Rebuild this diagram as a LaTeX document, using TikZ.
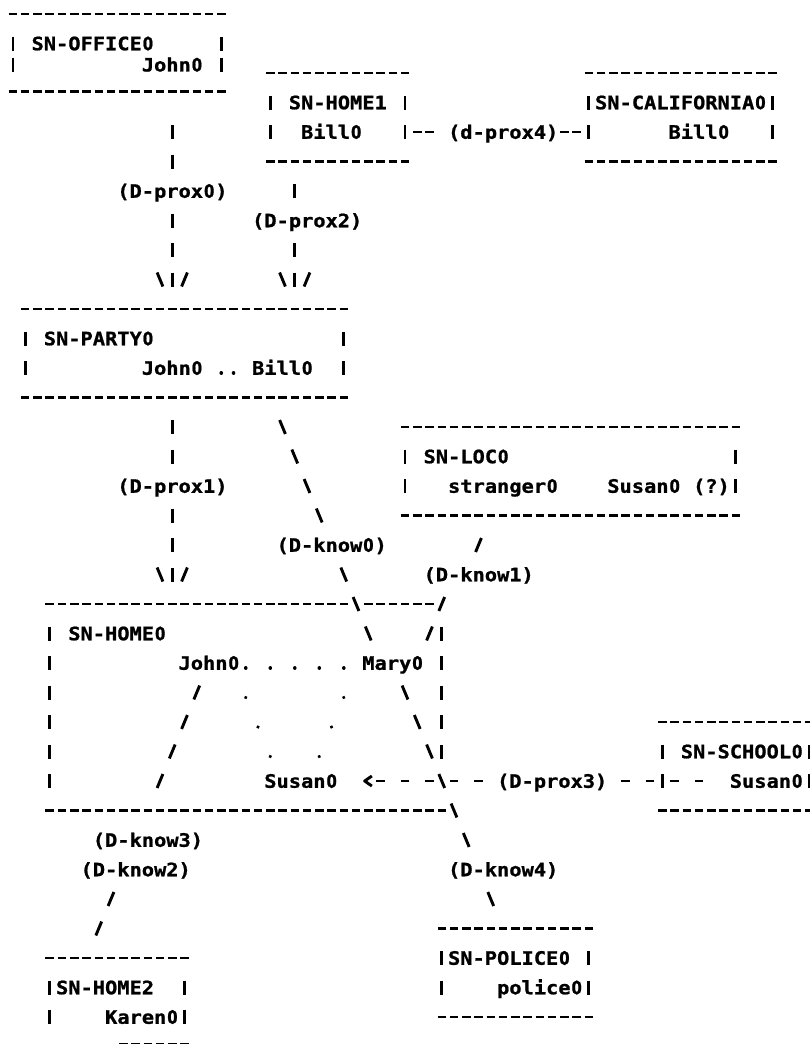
\documentclass[tikz,border=0pt]{standalone}
\usepackage{fontspec}
\newfontfamily\asciifont{DejaVu Sans Mono}[FakeStretch=1.1, FakeBold=1]
% plain (undotted) zero, squeezed into one character cell
\newfontfamily\zerofont{DejaVu Sans}[FakeStretch=0.8, FakeBold=1]
\usetikzlibrary{calc}

% character cell: 12.25pt wide, 29.5pt per printed line
\newcommand\asciisize{\fontsize{18.5}{20}\selectfont}
\newcommand\fixspace{\fontdimen2\font=12.2517pt\fontdimen3\font=0pt\fontdimen4\font=0pt\relax}
\newcommand\zr{\makebox[12.2517pt][c]{\zerofont 0}}

\tikzset{
  txt/.style={inner sep=0pt, anchor=base west, yshift=-6.75pt,
              font=\asciifont\bfseries\asciisize\fixspace},
  ink/.style={line width=2.9pt, black},
  border/.style={ink, dash pattern=on 8.5pt off 3.75pt,
                 shorten <=-4.25pt, shorten >=-4.25pt},
  hrun/.style={ink, dash pattern=on 8.5pt off 16pt,
               shorten <=-4.25pt, shorten >=-4.25pt},
  vrun/.style={ink, dash pattern=on 14pt off 15.5pt,
               shorten <=-7pt, shorten >=-7pt},
  drun/.style={ink, dash pattern=on 15.1pt off 16.84pt,
               shorten <=-7.55pt, shorten >=-7.55pt},
  dotrun/.style={line width=3.6pt, line cap=round,
                 dash pattern=on 0.01pt off #1, shorten >=-0.5pt},
}

% single strokes centred in a character cell
\newcommand\avbar[2]{\draw[ink] (#1,#2) +(0,7pt) -- +(0,-7pt);}
\newcommand\abslash[2]{\draw[ink] (#1,#2) +(-2.9pt,7pt) -- +(2.9pt,-7pt);}
\newcommand\afslash[2]{\draw[ink] (#1,#2) +(2.9pt,7pt) -- +(-2.9pt,-7pt);}
% downward arrow head  \|/
\newcommand\adown[2]{\abslash{#1-1}{#2}\afslash{#1+1}{#2}}
% frame: dashed top/bottom rows, bars on the two text rows
\newcommand\asciibox[4]{%
  \draw[border] (#1,#2) -- (#3,#2);
  \draw[border] (#1,#4) -- (#3,#4);
  \draw[vrun] (#1,#2+1) -- (#1,#4-1);
  \draw[vrun] (#3,#2+1) -- (#3,#4-1);
}

\begin{document}
\begin{tikzpicture}[x=12.25pt, y=-29.5pt]
\useasboundingbox (-1.06122,-0.47458) rectangle (65.06122,34.91525);
\fill[white] (-1.06122,-0.47458) rectangle (65.06122,34.91525);
\clip (-1.06122,-0.47458) rectangle (65.06122,34.91525);

% ---------------- situation boxes ----------------
% SN-OFFICE0 is printed a little tighter than the other boxes
\draw[border] (0,0) -- (17,0);
\draw[border] (0,2.62) -- (17,2.62);
\avbar{0}{1}\avbar{0}{1.72}
\avbar{17}{1}\avbar{17}{1.72}
\node[txt] (office) at (1.5,1) {SN-OFFICE\zr};
\node[txt] (officeJohn) at (10.5,1.72) {John\zr};

\asciibox{21}{2}{32}{5}
\node[txt] (home1) at (22.5,3) {SN-HOME1};
\node[txt] (home1Bill) at (23.5,4) {Bill\zr};

\asciibox{47}{2}{62}{5}
\node[txt] (calif) at (47.5,3) {SN-CALIFORNIA\zr};
\node[txt] (califBill) at (53.5,4) {Bill\zr};

\asciibox{1}{10}{27}{13}
\node[txt] (party) at (2.5,11) {SN-PARTY\zr};
\node[txt] (partyJohn) at (10.5,12) {John\zr};
\node[txt] (partyBill) at (19.5,12) {Bill\zr};

\asciibox{32}{14}{59}{17}
\node[txt] (loc) at (33.5,15) {SN-LOC\zr};
\node[txt] (stranger) at (35.5,16) {stranger\zr};
\node[txt] (locSusan) at (48.5,16) {Susan\zr{} (?)};

% SN-HOME0: its top row is crossed by two incoming lines
\draw[border] (3,20) -- (27,20);
\draw[border] (29,20) -- (34,20);
\draw[border] (3,27) -- (35,27);
\draw[vrun] (3,21) -- (3,26);
\draw[vrun] (35,21) -- (35,25);
\node[txt] (home0) at (4.5,21) {SN-HOME\zr};
\node[txt] (home0John) at (13.5,22) {John\zr};
\node[txt] (home0Mary) at (28.5,22) {Mary\zr};
\node[txt] (home0Susan) at (20.5,26) {Susan\zr};

\asciibox{53}{24}{65}{27}
\node[txt] (school) at (54.5,25) {SN-SCHOOL\zr};
\node[txt] (schoolSusan) at (58.5,26) {Susan\zr};

\asciibox{35}{31}{47}{34}
\node[txt] (police) at (35.5,32) {SN-POLICE\zr};
\node[txt] (policeman) at (39.5,33) {police\zr};

\draw[border] (3,32) -- (14,32);
\draw[vrun] (3,33) -- (3,34);
\draw[vrun] (14,33) -- (14,34);
\draw[border] ([yshift=2.5pt]9,35) -- ([yshift=2.5pt]14,35);
\node[txt] (home2) at (3.5,33) {SN-HOME2};
\node[txt] (karen) at (7.5,34) {Karen\zr};

% ---------------- link labels ----------------
\node[txt] (dprox4) at (35.5,4) {(d-prox4)};
\node[txt] (dprox0) at (8.5,6) {(D-prox\zr)};
\node[txt] (dprox2) at (19.5,7) {(D-prox2)};
\node[txt] (dprox1) at (8.5,16) {(D-prox1)};
\node[txt] (dknow0) at (21.5,18) {(D-know\zr)};
\node[txt] (dknow1) at (33.5,19) {(D-know1)};
\node[txt] (dprox3) at (39.5,26) {(D-prox3)};
\node[txt] (dknow3) at (6.5,28) {(D-know3)};
\node[txt] (dknow2) at (5.5,29) {(D-know2)};
\node[txt] (dknow4) at (35.5,29) {(D-know4)};

% ---------------- connectors ----------------
% SN-OFFICE0 -> SN-PARTY0
\coordinate (o1) at (13,4); \coordinate (o2) at (13,5);
\coordinate (o3) at (13,7); \coordinate (o4) at (13,9);
\draw[vrun] (o1) -- (o2);
\draw[vrun] (o3) -- (o4);
\adown{13}{9}

% SN-HOME1 -> SN-PARTY0
\avbar{23}{6}
\coordinate (h1) at (23,8); \coordinate (h2) at (23,9);
\draw[vrun] (h1) -- (h2);
\adown{23}{9}

% SN-HOME1 <-> SN-CALIFORNIA0
\coordinate (c1) at (33,4); \coordinate (c2) at (34,4);
\coordinate (c3) at (45,4); \coordinate (c4) at (46,4);
\draw[border] (c1) -- (c2);
\draw[border] (c3) -- (c4);

% SN-PARTY0 -> SN-HOME0
\coordinate (p1) at (13,14); \coordinate (p2) at (13,15);
\coordinate (p3) at (13,17); \coordinate (p4) at (13,19);
\draw[vrun] (p1) -- (p2);
\draw[vrun] (p3) -- (p4);
\adown{13}{19}

% John0 .. Bill0 at the party
\draw[dotrun=12.25pt] ([yshift=-5pt]17,12) -- ([yshift=-5pt]18,12);

% Bill0 (party) -> Mary0
\coordinate (k1) at (22,14); \coordinate (k2) at (25,17);
\coordinate (k3) at (27,19); \coordinate (k4) at (29,21);
\draw[drun] (k1) -- (k2);
\draw[drun] (k3) -- (k4);

% stranger0 -> Mary0
\afslash{38}{18}
\coordinate (s1) at (35,20); \coordinate (s2) at (34,21);
\draw[drun] (s1) -- (s2);

% dotted links inside SN-HOME0
\draw[dotrun=24.5pt] ([yshift=-5pt]19,22) -- ([yshift=-5pt]27,22);
\draw[dotrun=31.94pt] ([yshift=-5pt]19,23) -- ([yshift=-5pt]21,25);
\draw[dotrun=31.94pt] ([yshift=-5pt]27,23) -- ([yshift=-5pt]25,25);

% John0 -> Karen0
\coordinate (j1) at (15,23); \coordinate (j2) at (12,26);
\coordinate (j3) at (8,30); \coordinate (j4) at (7,31);
\draw[drun] (j1) -- (j2);
\draw[drun] (j3) -- (j4);

% Mary0 -> police0
\coordinate (m1) at (32,23); \coordinate (m2) at (37,28);
\draw[drun] (m1) -- (m2);
\abslash{39}{30}

% Susan0 (school) -> Susan0 (home)
\coordinate (u1) at (56,26); \coordinate (u2) at (50,26);
\coordinate (u3) at (38,26); \coordinate (u4) at (30,26);
\draw[hrun] (u1) -- (u2);
\draw[hrun] (u3) -- (u4);
\draw[ink, line join=round] (29,26) +(3.6pt,5pt) -- +(-3.6pt,0pt) -- +(3.6pt,-5pt);

\end{tikzpicture}
\end{document}
